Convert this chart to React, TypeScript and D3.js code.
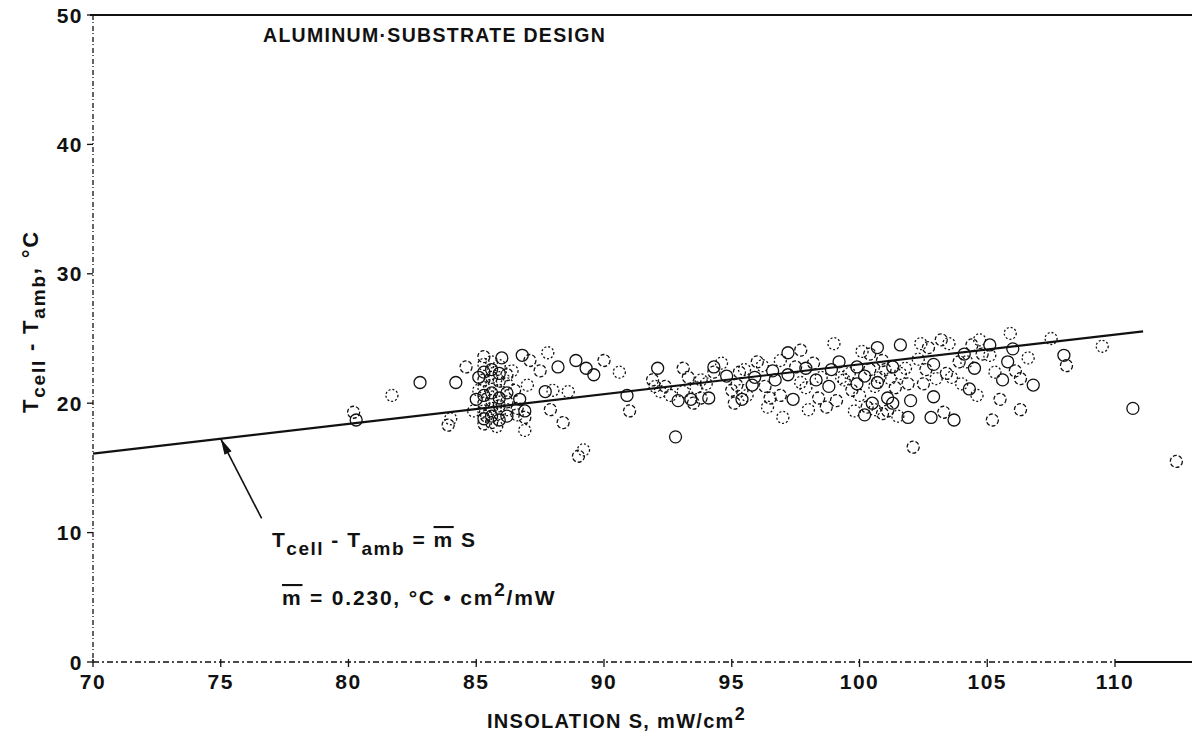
import React, { useRef, useEffect } from 'react';
import * as d3 from 'd3';

const insolation = [
  80.3, 80.2, 81.7, 82.8, 83.9, 84.0, 84.2, 84.6, 84.9, 85.0,
  85.3, 85.3, 85.3, 85.3, 85.3, 85.3, 85.3, 85.3, 85.3, 85.3,
  85.6, 85.6, 85.6, 85.6, 85.6, 85.6, 85.6, 85.6, 85.6,
  85.9, 85.9, 85.9, 85.9, 85.9, 85.9, 85.9, 85.9,
  86.2, 86.2, 86.2, 86.2, 86.2, 86.2,
  86.6, 86.6, 86.9, 86.9, 86.9,
  86.8, 87.1, 87.0, 87.7, 87.9, 87.8, 88.2, 88.4, 88.6, 88.9,
  89.0, 89.2, 89.6, 90.0, 90.6, 90.9, 91.0, 92.0, 92.1, 92.4,
  92.2, 92.8, 93.1, 93.1, 93.4, 93.8, 93.8, 94.1, 94.3, 94.6,
  94.3, 95.2, 95.4, 95.4, 95.3, 95.5, 95.8, 96.0, 96.9, 97.2,
  96.9, 97.0, 97.2, 97.7, 97.7, 97.4, 98.2, 98.5, 98.8, 98.7,
  99.0, 99.2, 99.7, 99.6, 100.2, 100.3, 100.6, 100.7, 100.9, 101.2,
  101.1, 101.1, 101.6, 101.6, 101.9, 101.5, 101.9, 102.1, 102.4, 102.8,
  102.6, 103.0, 102.9, 103.2, 103.5, 103.7, 103.9, 104.2, 104.5, 104.4,
  104.7, 105.1, 105.2, 105.1, 105.6, 105.5, 105.9, 106.0, 106.3, 106.6,
  106.8, 106.3, 107.5, 108.0, 108.1, 109.5, 110.7, 112.4,
  99.4, 99.9, 100.4, 100.8, 101.3, 101.4, 100.0, 100.5, 100.9, 99.8, 100.2,
  95.0, 95.6, 95.9, 96.3, 96.4, 96.6, 93.3, 93.6,
  97.9, 98.4, 98.0, 98.9, 99.1,
  102.3, 102.9, 103.4, 104.0, 104.1, 103.3,
  85.1, 85.1, 85.4, 85.8, 86.0, 86.5, 86.4, 86.7,
  87.5, 88.0, 89.3, 91.9, 92.6, 92.9, 93.5, 94.0, 94.8,
  95.1, 96.2, 96.7, 97.5, 97.9, 98.3, 96.5,
  99.3, 99.9, 100.4, 100.1, 100.7, 101.0, 101.8, 102.0, 102.5, 100.6, 101.3, 102.7,
  103.6, 104.3, 104.8, 105.3, 105.8, 106.1, 104.6,
];
const deltaT = [
  18.7, 19.3, 20.6, 21.6, 18.3, 18.8, 21.6, 22.8, 19.4, 20.3,
  23.6, 23.0, 22.4, 21.8, 21.2, 20.6, 20.0, 19.4, 18.8, 18.4,
  23.2, 22.6, 22.0, 21.4, 20.8, 20.2, 19.6, 19.0, 18.5,
  22.9, 22.3, 21.7, 21.0, 20.4, 19.8, 19.2, 18.7,
  22.2, 21.5, 20.8, 20.1, 19.5, 19.0,
  19.6, 19.1, 19.4, 18.9, 17.9,
  23.7, 23.3, 21.4, 20.9, 19.5, 23.9, 22.8, 18.5, 20.9, 23.3,
  15.9, 16.4, 22.2, 23.3, 22.4, 20.6, 19.4, 21.3, 22.7, 21.3,
  20.9, 17.4, 22.7, 20.9, 20.3, 20.4, 21.8, 20.4, 22.4, 23.1,
  22.8, 21.4, 21.0, 20.3, 22.4, 22.6, 21.4, 23.2, 23.3, 22.2,
  20.6, 18.9, 23.9, 24.1, 21.6, 20.3, 23.1, 22.0, 21.3, 19.7,
  24.6, 23.2, 21.0, 22.3, 22.1, 19.7, 21.3, 24.3, 23.3, 21.9,
  20.4, 19.4, 22.3, 24.5, 21.5, 19.0, 18.9, 16.6, 24.6, 18.9,
  22.6, 21.9, 20.5, 24.9, 24.6, 18.7, 23.2, 23.2, 22.7, 24.5,
  24.9, 24.5, 18.7, 23.7, 21.8, 20.3, 25.4, 24.2, 21.9, 23.5,
  21.4, 19.5, 25.0, 23.7, 22.9, 24.4, 19.6, 15.5,
  21.8, 22.8, 22.6, 22.0, 22.8, 21.2, 20.6, 20.0, 19.2, 19.4, 19.1,
  21.0, 20.6, 22.0, 21.3, 19.7, 22.5, 22.0, 21.2,
  22.7, 20.4, 19.5, 22.6, 20.2,
  23.4, 23.0, 22.3, 21.5, 23.8, 19.3,
  21.0, 22.0, 19.0, 18.2, 23.5, 21.0, 22.5, 20.3,
  22.5, 21.0, 22.7, 21.8, 20.6, 20.2, 20.0, 21.5, 22.1,
  20.0, 22.9, 21.8, 22.8, 21.2, 21.8, 20.4,
  22.0, 21.5, 23.8, 24.0, 21.6, 22.6, 22.7, 20.2, 21.5, 19.5, 20.0, 24.3,
  22.0, 21.1, 23.8, 22.4, 23.2, 22.5, 20.6,
];

const xTicks = [70, 75, 80, 85, 90, 95, 100, 105, 110];
const yTicks = [0, 10, 20, 30, 40, 50];

// fitted line  T = m S
const slope = 0.23;
const fitRange = [70, 111.1];

// arrow from the formula label to the line, in data units
const arrowTail = [76.6, 11.1];
const arrowTipS = 75;

const FONT = "'Liberation Sans', Arial, Helvetica, sans-serif";

const App = () => {
  const svgRef = useRef(null);

  useEffect(() => {
    const svg = d3.select(svgRef.current);
    svg.selectAll('*').remove();

    const width = 1192;
    const left = 93;
    const top = 15;
    const bottom = 662;

    const x = d3.scaleLinear().domain([70, 110]).range([left, 1115]);
    const y = d3.scaleLinear().domain([0, 50]).range([bottom, top]);

    const ink = '#111';

    const txt = (sel, size, ls) => sel
      .style('font-family', FONT).style('font-size', size + 'px').style('font-weight', 'bold')
      .style('letter-spacing', ls + 'px').style('fill', ink);

    // top frame
    svg.append('line')
      .attr('x1', left - 3).attr('x2', width)
      .attr('y1', y(50)).attr('y2', y(50))
      .style('stroke', ink).style('stroke-width', 2);

    // y axis (scanned, broken line)
    svg.append('line')
      .attr('x1', left).attr('x2', left)
      .attr('y1', y(50)).attr('y2', y(0))
      .style('stroke', ink).style('stroke-width', 1.3)
      .style('stroke-dasharray', '5,2,1,3');

    // x axis
    svg.append('line')
      .attr('x1', left).attr('x2', x(110))
      .attr('y1', y(0)).attr('y2', y(0))
      .style('stroke', ink).style('stroke-width', 1.3)
      .style('stroke-dasharray', '6,3,2,3');
    svg.append('line')
      .attr('x1', x(110)).attr('x2', width)
      .attr('y1', y(0)).attr('y2', y(0))
      .style('stroke', ink).style('stroke-width', 2);

    const yAxis = svg.append('g');
    yAxis.selectAll('line')
      .data(yTicks).enter().append('line')
      .attr('x1', left - 6).attr('x2', left)
      .attr('y1', (d) => y(d)).attr('y2', (d) => y(d))
      .style('stroke', ink).style('stroke-width', 1.3);
    txt(yAxis.selectAll('text')
      .data(yTicks).enter().append('text')
      .attr('x', left - 10)
      .attr('y', (d) => y(d))
      .attr('dy', '0.36em')
      .attr('text-anchor', 'end'), 21, 1.5)
      .text((d) => d);

    const xAxis = svg.append('g');
    xAxis.selectAll('line')
      .data(xTicks).enter().append('line')
      .attr('x1', (d) => x(d)).attr('x2', (d) => x(d))
      .attr('y1', y(0) - 3).attr('y2', y(0) + 5)
      .style('stroke', ink).style('stroke-width', 1.3);
    txt(xAxis.selectAll('text')
      .data(xTicks).enter().append('text')
      .attr('x', (d) => x(d))
      .attr('y', 689)
      .attr('text-anchor', 'middle'), 21, 1.5)
      .text((d) => d);

    // axis titles
    const xTitle = txt(svg.append('text').attr('x', 487).attr('y', 728), 20, 1.3);
    xTitle.append('tspan').text('INSOLATION  S, mW/cm');
    xTitle.append('tspan').attr('dy', -8).style('font-size', '18px').text('2');

    const yTitle = txt(svg.append('text').attr('transform', 'translate(38,413) rotate(-90)'), 22, 1.8);
    yTitle.append('tspan').text('T');
    yTitle.append('tspan').attr('dy', 7).style('font-size', '19px').text('cell');
    yTitle.append('tspan').attr('dy', -7).text(' - T');
    yTitle.append('tspan').attr('dy', 7).style('font-size', '19px').text('amb');
    yTitle.append('tspan').attr('dy', -7).text(', \u00B0C');

    txt(svg.append('text').attr('x', 263).attr('y', 42), 19.5, 1.3)
      .text('ALUMINUM\u00B7SUBSTRATE DESIGN');

    // fitted line
    const line = d3.line().x((d) => x(d)).y((d) => y(slope * d));
    svg.append('path')
      .attr('d', line(fitRange))
      .style('fill', 'none').style('stroke', ink).style('stroke-width', 2.2);

    // data points
    const pts = insolation.map((s, i) => [s, deltaT[i]]);
    svg.append('g').selectAll('circle')
      .data(pts).enter().append('circle')
      .attr('cx', (d) => x(d[0]))
      .attr('cy', (d) => y(d[1]))
      .attr('r', 6)
      .style('fill', 'none')
      .style('stroke', ink)
      .style('stroke-width', 1.3)
      .style('stroke-dasharray', (d, i) => (i % 3 === 0 ? 'none' : i % 3 === 1 ? '4,2' : '2,2'));

    // arrow annotation
    const tipX = x(arrowTipS);
    const tipY = y(slope * arrowTipS);
    const tailX = x(arrowTail[0]);
    const tailY = y(arrowTail[1]);
    svg.append('line')
      .attr('x1', tailX).attr('y1', tailY)
      .attr('x2', tipX).attr('y2', tipY)
      .style('stroke', ink).style('stroke-width', 1.6);
    const ang = Math.atan2(tipY - tailY, tipX - tailX);
    const hl = 16;
    const hw = 4;
    const bx = tipX - hl * Math.cos(ang);
    const by = tipY - hl * Math.sin(ang);
    svg.append('path')
      .attr('d', `M${tipX},${tipY}L${bx + hw * Math.sin(ang)},${by - hw * Math.cos(ang)}L${bx - hw * Math.sin(ang)},${by + hw * Math.cos(ang)}Z`)
      .style('fill', ink);

    // formula
    const f1 = txt(svg.append('text').attr('x', 272).attr('y', 547), 21, 1.5);
    f1.append('tspan').text('T');
    f1.append('tspan').attr('dy', 8).style('font-size', '19px').text('cell');
    f1.append('tspan').attr('dy', -8).text(' - T');
    f1.append('tspan').attr('dy', 8).style('font-size', '19px').text('amb');
    f1.append('tspan').attr('dy', -8).text(' = ');
    f1.append('tspan').style('text-decoration', 'overline').text('m');
    f1.append('tspan').text(' S');

    const f2 = txt(svg.append('text').attr('x', 282).attr('y', 605), 21, 1.8);
    f2.append('tspan').style('text-decoration', 'overline').text('m');
    f2.append('tspan').text(' = 0.230, \u00B0C \u2022 cm');
    f2.append('tspan').attr('dy', -9).style('font-size', '19px').text('2');
    f2.append('tspan').attr('dy', 9).text('/mW');
  }, []);

  return (
    <svg ref={svgRef} width={1192} height={738}
      style={{ position: 'absolute', left: 0, top: 0, background: '#fff' }} />
  );
};

export default App;
